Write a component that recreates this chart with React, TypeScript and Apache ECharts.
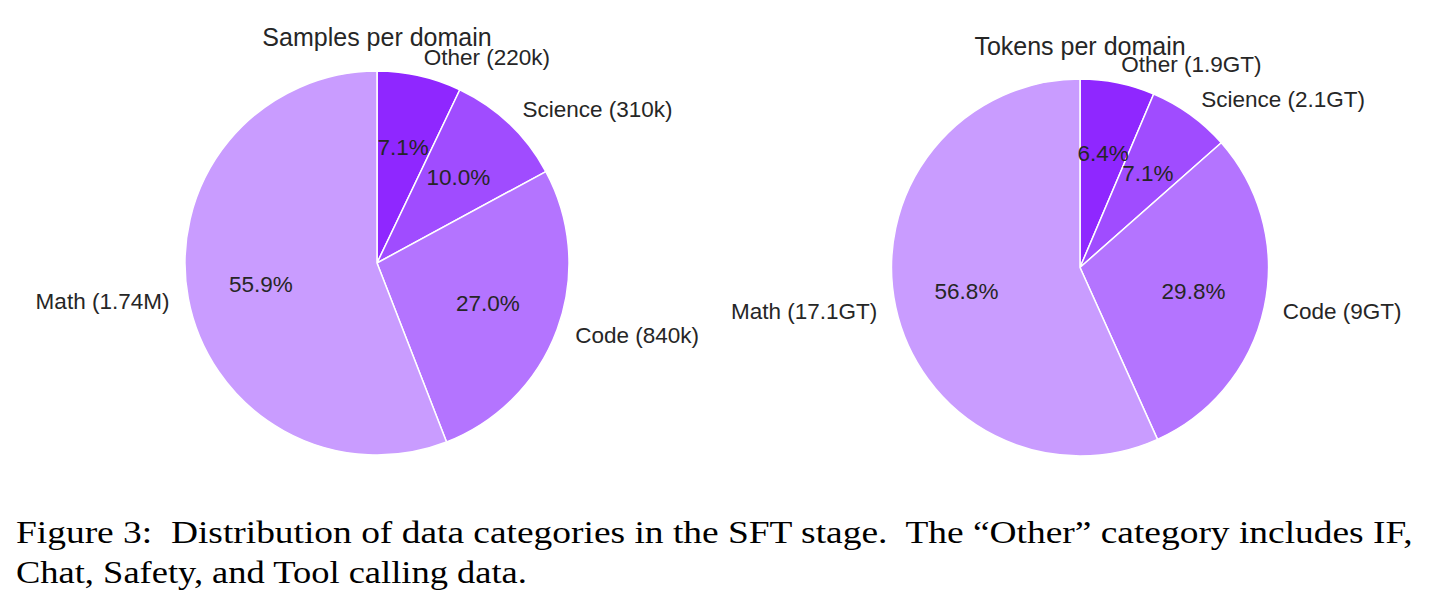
import React, { useEffect, useRef } from 'react';
import * as echarts from 'echarts';

const categories = ['Other', 'Science', 'Code', 'Math'];
const sampleShares = [7.1, 10.0, 27.0, 55.9];
const sampleSizes = ['220k', '310k', '840k', '1.74M'];
const tokenShares = [6.4, 7.1, 29.8, 56.8];
const tokenSizes = ['1.9GT', '2.1GT', '9GT', '17.1GT'];
const titles = ['Samples per domain', 'Tokens per domain'];
const captionLines = [
  'Figure 3:  Distribution of data categories in the SFT stage.  The \u201cOther\u201d category includes IF,',
  'Chat, Safety, and Tool calling data.',
];

const colors = ['#8F27FF', '#A04CFF', '#B474FF', '#C99CFF'];
const labelColor = '#262626';
const sansFont = '"Liberation Sans", Arial, sans-serif';
const serifFont = '"Liberation Serif", "Times New Roman", serif';
const captionScale = [1.17, 1.14];

const pies = [
  { center: [377, 263], r: 192, titleY: 37, shares: sampleShares, sizes: sampleSizes },
  { center: [1080, 267.5], r: 188.5, titleY: 45.5, shares: tokenShares, sizes: tokenSizes },
];

export default function App() {
  const ref = useRef<HTMLDivElement>(null);
  useEffect(() => {
    document.body.style.margin = '0';
    const chart = echarts.init(ref.current!, null, { renderer: 'svg' });
    const series: any[] = [];
    pies.forEach((p) => {
      series.push({
        type: 'pie',
        center: p.center,
        radius: p.r,
        startAngle: 90,
        clockwise: true,
        silent: true,
        avoidLabelOverlap: false,
        emphasis: { disabled: true },
        itemStyle: { borderColor: '#ffffff', borderWidth: 1.5 },
        label: {
          show: true,
          position: 'outside',
          distanceToLabelLine: 0,
          fontFamily: sansFont,
          fontSize: 22.5,
          color: labelColor,
          formatter: (params: any) => params.name,
        },
        labelLine: { show: false, length: p.r * 0.1, length2: 0 },
        labelLayout: { hideOverlap: false },
        data: categories.map((c, i) => ({
          name: `${c} (${p.sizes[i]})`,
          value: p.shares[i],
          itemStyle: { color: colors[i] },
        })),
      });
      series.push({
        type: 'pie',
        center: p.center,
        radius: [0, p.r * 1.2],
        startAngle: 90,
        clockwise: true,
        silent: true,
        avoidLabelOverlap: false,
        emphasis: { disabled: true },
        z: 5,
        itemStyle: { color: 'rgba(0,0,0,0)', borderWidth: 0 },
        label: {
          show: true,
          position: 'inside',
          fontFamily: sansFont,
          fontSize: 22.5,
          color: labelColor,
          formatter: (params: any) => `${Number(params.value).toFixed(1)}%`,
        },
        labelLine: { show: false },
        labelLayout: { hideOverlap: false },
        data: categories.map((c, i) => ({ name: c, value: p.shares[i] })),
      });
    });

    const graphic: any[] = [];
    pies.forEach((p, i) => {
      graphic.push({
        type: 'text',
        x: p.center[0],
        y: p.titleY,
        z: 10,
        style: {
          text: titles[i],
          font: `25px ${sansFont}`,
          fill: labelColor,
          textAlign: 'center',
          textVerticalAlign: 'middle',
        },
      });
    });
    captionLines.forEach((line, i) => {
      graphic.push({
        type: 'text',
        x: 16,
        y: 532 + i * 40,
        scaleX: captionScale[i],
        style: {
          text: line,
          font: `32px ${serifFont}`,
          fill: '#000000',
          textAlign: 'left',
          textVerticalAlign: 'middle',
        },
      });
    });

    chart.setOption({
      animation: false,
      backgroundColor: '#ffffff',
      series,
      graphic,
    });
    return () => chart.dispose();
  }, []);
  return <div ref={ref} style={{ width: 1435, height: 604 }} />;
}
